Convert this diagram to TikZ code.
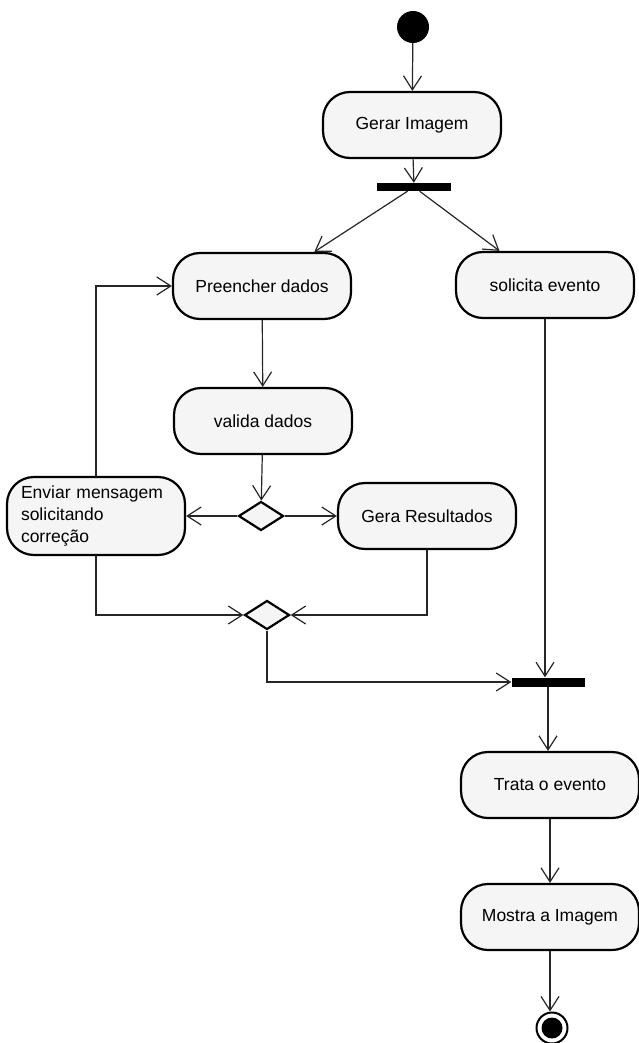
\documentclass[tikz,border=0pt]{standalone}
\usepackage{fontspec}
\setmainfont{Liberation Sans}
\usepackage{tikz}
\usetikzlibrary{arrows.meta,positioning,shapes.geometric,calc}

\begin{document}
\begin{tikzpicture}[
  x=1pt, y=-1pt,
  act/.style={draw, line width=2.2pt, rounded corners=27pt, fill=black!4,
              minimum width=178pt, minimum height=66pt, inner sep=0pt,
              font=\fontsize{17.5}{22}\selectfont},
  bar/.style={fill=black, minimum width=74pt, minimum height=8pt, inner sep=0pt},
  choice/.style={draw, diamond, line width=2.2pt, fill=black!4, inner sep=0pt,
                 minimum width=45pt, minimum height=29pt},
  flow/.style={draw=black!85, line width=1.2pt,
               -{Straight Barb[length=14pt,width=18pt]}}]
  \useasboundingbox (0,0) rectangle (639,1043);
  \node[circle, fill=black, minimum size=32pt, inner sep=0pt] (start) at (413,27) {};
  \node[act] (gen) at (412,125) {Gerar Imagem};
  \node[bar] (fork) at (414,187) {};
  \node[act] (fill) at (262,286) {Preencher dados};
  \node[act] (req) at (545,285) {solicita evento};
  \node[act] (check) at (263,421) {valida dados};
  \node[choice] (test) at (261,516) {};
  \node[act, minimum height=78pt, text width=150pt, align=left] (msg) at (96,516)
    {Enviar mensagem\\solicitando\\correção};
  \node[act] (res) at (427,516) {Gera Resultados};
  \node[choice] (merge) at (267,615) {};
  \node[bar, minimum width=73pt, minimum height=9pt] (join) at (548,682) {};
  \node[act] (treat) at (550,785) {Trata o evento};
  \node[act] (show) at (550,917) {Mostra a Imagem};
  \node[circle, draw, line width=2pt, minimum size=31pt, inner sep=0pt] (stop) at (552,1028) {};
  \node[circle, fill=black, minimum size=21pt, inner sep=0pt] at (stop) {};

  \draw[flow] (start) -- (gen);
  \draw[flow] (gen) -- (fork);
  \draw[flow] (fork) -- (fill);
  \draw[flow] (fork) -- (req);
  \draw[flow] (fill) -- (check);
  \draw[flow] (check) -- (test);
  \draw[flow] (test) -- (msg);
  \draw[flow] (test) -- (res);
  \draw[flow] (msg.north) |- (fill.west);
  \draw[flow] (msg.south) |- (merge.west);
  \draw[flow] (res.south) |- (merge.east);
  \draw[flow] (merge.south) |- (join.west);
  \draw[flow] (req.south) -- (req.south |- join.north);
  \draw[flow] (join) -- (join |- treat.north);
  \draw[flow] (treat) -- (show);
  \draw[flow] (show.south) -- (show.south |- stop.north);
\end{tikzpicture}
\end{document}
